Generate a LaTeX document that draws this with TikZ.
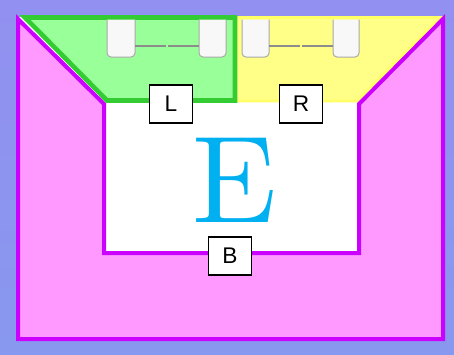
\documentclass[tikz,border=0pt]{standalone}
\usepackage{fontspec}
\newfontfamily\tagfont{Liberation Sans}
\newfontfamily\bigfont{lmroman10-regular}[Extension=.otf]
\usepackage{xcolor}
\definecolor{roombgtop}{HTML}{9290F0}
\definecolor{roombgbot}{HTML}{8898EE}
\definecolor{zonepink}{HTML}{FF99FF}
\definecolor{zonemagenta}{HTML}{CC00FF}
\definecolor{zonegreen}{HTML}{99FF99}
\definecolor{zonegreenline}{HTML}{33CC33}
\definecolor{zoneyellow}{HTML}{FFFF88}
\definecolor{zoneyellowline}{HTML}{FFFF66}
\definecolor{seatfill}{HTML}{F8F8F8}
\definecolor{seatline}{HTML}{A8A8A8}
\definecolor{barline}{HTML}{8C8C8C}
\definecolor{ecyan}{HTML}{00B0F0}
\usetikzlibrary{positioning}
\tikzset{
  zonewall/.style={draw=zonemagenta, line width=3pt, line join=miter},
  seat/.style={fill=seatfill, draw=seatline, line width=0.75pt, rounded corners=3pt},
  seatbar/.style={draw=barline, line width=1.5pt},
  tag/.style={
    rectangle, draw=black, fill=white, line width=0.8pt,
    minimum width=32pt, minimum height=28.5pt, inner sep=0pt,
    font=\tagfont\fontsize{17}{17}\selectfont
  },
  bigletter/.style={anchor=base, inner sep=0pt, text=ecyan,
    font=\bigfont\fontsize{93}{93}\selectfont}
}

\begin{document}
\begin{tikzpicture}[x=0.75pt, y=-0.75pt]

% ── Background and canvas ────────────────────────────────────────────────────
\shade[top color=roombgtop, bottom color=roombgbot] (0,0) rectangle (454,354);
\useasboundingbox (0,0) rectangle (454,354);
\fill[white] (18,17) rectangle (443,339);

% ── Yellow zone (top right) ──────────────────────────────────────────────────
\draw[fill=zoneyellow, draw=zoneyellowline, line width=2pt]
  (236,17.5) -- (440,17.5) -- (357,101) -- (236,101) -- cycle;

% ── Pink U-shaped zone with magenta walls ────────────────────────────────────
\draw[zonewall, fill=zonepink]
  (18,19) -- (104,104) -- (104,253) -- (359,253) -- (359,104)
  -- (443,19) -- (443,339) -- (18,339) -- cycle;

% ── Green zone (top left) ────────────────────────────────────────────────────
\draw[fill=zonegreen, draw=zonegreenline, line width=3.5pt, line join=miter]
  (25,17.5) -- (235,17.5) -- (235,100.5) -- (107,100.5) -- cycle;

% ── Seats and bars ───────────────────────────────────────────────────────────
\foreach \xa/\xb in {107/135, 199/226, 242/269, 333/359}
  \draw[seat] (\xa,19.5) -- (\xa,57) -- (\xb,57) -- (\xb,19.5);
\foreach \xa/\xb in {135/199, 269/333} {
  \draw[seatbar] (\xa,46) -- ({(\xa+\xb)/2-1},46);
  \draw[seatbar] ({(\xa+\xb)/2+1},46) -- (\xb,46);
}

% ── Labels ───────────────────────────────────────────────────────────────────
\node[bigletter] (ebig) at (235,222) {E};
\node[tag] (left) at (171,104) {L};
\node[tag] (right) at (301,104) {R};
\node[tag] (bottom) at (230,256) {B};

\end{tikzpicture}
\end{document}
